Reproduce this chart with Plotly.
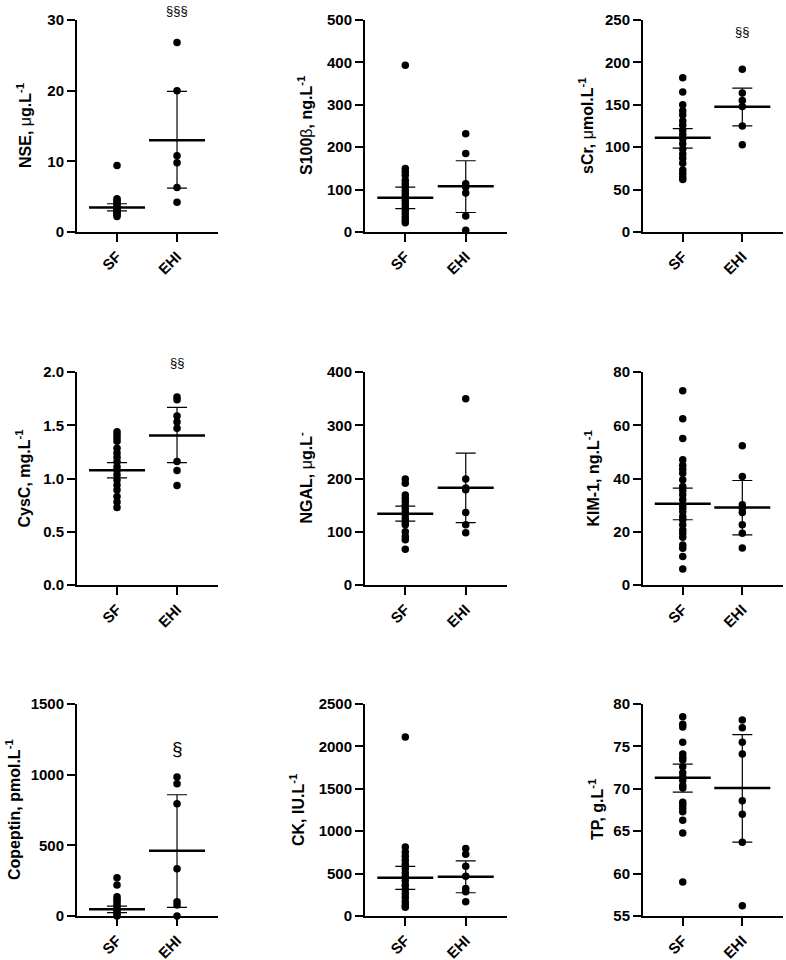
import plotly.graph_objects as go

GROUPS = ["SF", "EHI"]

# ---- data ----
NSE_SF = [9.4, 4.7, 4.5, 4.2, 3.9, 3.6, 3.4, 3.2, 3.0, 2.8, 2.6, 2.4, 2.2]
NSE_EHI = [26.8, 20.0, 10.8, 9.8, 6.3, 4.2]
NSE_MEAN = [3.45, 13.0]
NSE_LO = [3.0, 6.2]
NSE_HI = [4.0, 19.9]

S100_SF = [393, 150, 142, 134, 122, 114, 106, 98, 91, 83, 75, 67, 59, 51, 43, 35, 28, 22]
S100_EHI = [232, 185, 114, 106, 92, 38, 4]
S100_MEAN = [81, 108]
S100_LO = [55, 46]
S100_HI = [106, 168]

SCR_SF = [182, 165, 150, 143, 138, 131, 126, 120, 115, 110, 104, 98, 92, 87, 81, 73, 69, 65, 62]
SCR_EHI = [192, 164, 155, 148, 125, 103]
SCR_MEAN = [111, 147.6]
SCR_LO = [99, 125.2]
SCR_HI = [122, 169.7]

CYSC_SF = [1.44, 1.41, 1.38, 1.35, 1.285, 1.24, 1.20, 1.16, 1.11, 1.075, 1.034, 0.987, 0.94, 0.893, 0.83, 0.78, 0.727]
CYSC_EHI = [1.765, 1.74, 1.586, 1.53, 1.473, 1.16, 1.075, 0.934]
CYSC_MEAN = [1.078, 1.404]
CYSC_LO = [1.006, 1.15]
CYSC_HI = [1.15, 1.668]

NGAL_SF = [199, 191, 169, 163, 157, 150, 144, 138, 132, 125, 119, 113, 100, 91, 85, 67]
NGAL_EHI = [350, 199, 182, 179, 136, 113, 98]
NGAL_MEAN = [134, 182.4]
NGAL_LO = [120, 117.2]
NGAL_HI = [148, 247.6]

KIM_SF = [73, 62.4, 55, 47, 45, 43.5, 42, 39.5, 37, 35.5, 33.9, 32, 30, 28.8, 27.6, 25.7,
          24.5, 22.6, 20.7, 19.4, 17.9, 15, 13.8, 10.7, 6]
KIM_EHI = [52.3, 40.75, 30.1, 28.8, 27.2, 22.6, 19.4, 13.9]
KIM_MEAN = [30.5, 29.1]
KIM_LO = [24.5, 18.8]
KIM_HI = [36.4, 39.25]

COP_SF = [270, 219, 136, 118, 101, 82, 66, 47, 31, 14, 0]
COP_EHI = [983, 936, 795, 334, 101, 78, 0]
COP_MEAN = [47, 461]
COP_LO = [23.5, 61]
COP_HI = [70.5, 858]

CK_SF = [2112, 815, 756, 705, 658, 611, 560, 509, 462, 415, 364, 313, 266, 219, 168, 129, 102]
CK_EHI = [795, 729, 588, 470, 325, 286, 168]
CK_MEAN = [450, 462]
CK_LO = [313, 274]
CK_HI = [585, 650]

TP_SF = [78.5, 77.6, 77.3, 75.5, 74.1, 73.7, 73.4, 72.6, 71.9, 71.4, 71.0, 70.4, 70.1,
         68.4, 68.1, 67.7, 67.3, 66.3, 64.8, 59.0]
TP_EHI = [78.1, 77.2, 75.5, 74.1, 68.6, 67.0, 63.7, 56.2]
TP_MEAN = [71.3, 70.1]
TP_LO = [69.6, 63.7]
TP_HI = [72.9, 76.4]

NU = '<span style="font-weight:normal">μ</span>'
BETA = '<span style="font-weight:normal">β</span>'
TITLES = [
    f"NSE, {NU}g.L<sup>-1</sup>",
    f"S100{BETA}, ng.L<sup>-1</sup>",
    f"sCr, {NU}mol.L<sup>-1</sup>",
    "CysC, mg.L<sup>-1</sup>",
    f"NGAL, {NU}g.L<sup>-</sup>",
    "KIM-1, ng.L<sup>-1</sup>",
    "Copeptin, pmol.L<sup>-1</sup>",
    "CK, IU.L<sup>-1</sup>",
    "TP, g.L<sup>-1</sup>",
]
Y_RANGES = [[0, 30], [0, 500], [0, 250], [0, 2], [0, 400], [0, 80], [0, 1500], [0, 2500], [55, 80]]
Y_DTICKS = [10, 100, 50, 0.5, 100, 20, 500, 500, 5]
Y_FORMATS = ["", "", "", ".1f", "", "", "", "", ""]
SIG_TEXT = ["§§§", "", "§§", "§§", "", "", "§", "", ""]
SIG_Y = [31.4, None, 236, 2.085, None, None, 1183, None, None]
SIG_SIZE = [13, 13, 13, 13, 13, 13, 19, 13, 13]

SF_LISTS = [NSE_SF, S100_SF, SCR_SF, CYSC_SF, NGAL_SF, KIM_SF, COP_SF, CK_SF, TP_SF]
EHI_LISTS = [NSE_EHI, S100_EHI, SCR_EHI, CYSC_EHI, NGAL_EHI, KIM_EHI, COP_EHI, CK_EHI, TP_EHI]
MEANS = [NSE_MEAN, S100_MEAN, SCR_MEAN, CYSC_MEAN, NGAL_MEAN, KIM_MEAN, COP_MEAN, CK_MEAN, TP_MEAN]
LOS = [NSE_LO, S100_LO, SCR_LO, CYSC_LO, NGAL_LO, KIM_LO, COP_LO, CK_LO, TP_LO]
HIS = [NSE_HI, S100_HI, SCR_HI, CYSC_HI, NGAL_HI, KIM_HI, COP_HI, CK_HI, TP_HI]

# ---- layout geometry (screen pixels of the 786x960 window) ----
W, H = 786, 960
COL_X = [(77, 218), (365, 507), (643, 783)]
ROW_Y = [(20, 232), (372, 585), (704, 916)]
TITLE_X = [24, 305, 586, 23, 305, 592, 13, 297, 596]


def px_x(p):
    return min(1.0, max(0.0, p / W))


def px_y(p):
    return min(1.0, max(0.0, 1 - p / H))


FONT = "Liberation Sans, Arial, sans-serif"

fig = go.Figure()
layout = dict(
    width=W, height=H, margin=dict(l=0, r=0, t=0, b=0, autoexpand=False),
    paper_bgcolor="white", plot_bgcolor="white", showlegend=False,
    annotations=[],
)

for i in range(9):
    r, c = divmod(i, 3)
    n = "" if i == 0 else str(i + 1)
    xa, ya = "x" + n, "y" + n
    x0, x1 = COL_X[c]
    t, b = ROW_Y[r]

    # individual points
    for g, vals in enumerate([SF_LISTS[i], EHI_LISTS[i]]):
        fig.add_trace(go.Scatter(
            x=[g] * len(vals), y=vals, mode="markers", xaxis=xa, yaxis=ya,
            marker=dict(color="black", size=7.5, line=dict(width=0)),
            cliponaxis=False, hoverinfo="y",
        ))
    # mean with error bars
    means, lo, hi = MEANS[i], LOS[i], HIS[i]
    fig.add_trace(go.Scatter(
        x=[0, 1], y=means, mode="markers", xaxis=xa, yaxis=ya,
        marker=dict(symbol="line-ew", size=40, color="black",
                    line=dict(width=2.5, color="black")),
        error_y=dict(type="data", symmetric=False,
                     array=[hi[k] - means[k] for k in range(2)],
                     arrayminus=[means[k] - lo[k] for k in range(2)],
                     color="black", thickness=1.2, width=10),
        cliponaxis=False, hoverinfo="y",
    ))

    axis_common = dict(
        showline=True, linecolor="black", linewidth=2,
        ticks="outside", ticklen=8, tickwidth=2, tickcolor="black",
        showgrid=False, zeroline=False,
        tickfont=dict(family=FONT, size=15, color="black", weight="bold"),
    )
    layout["xaxis" + n] = dict(
        axis_common, domain=[px_x(x0), px_x(x1)], anchor=ya,
        range=[-0.667, 1.683], tickvals=[0, 1], ticktext=GROUPS, tickangle=-45,
    )
    layout["yaxis" + n] = dict(
        axis_common, domain=[px_y(b), px_y(t)], anchor=xa,
        range=Y_RANGES[i], dtick=Y_DTICKS[i], tick0=Y_RANGES[i][0],
        tickformat=Y_FORMATS[i],
    )
    layout["annotations"].append(dict(
        text=f"<b>{TITLES[i]}</b>", xref="paper", yref="paper",
        x=px_x(TITLE_X[i]), y=px_y((t + b) / 2), textangle=-90,
        xanchor="center", yanchor="middle", showarrow=False,
        font=dict(family=FONT, size=16, color="black"),
    ))
    if SIG_TEXT[i]:
        lo_r, hi_r = Y_RANGES[i]
        layout["annotations"].append(dict(
            text=SIG_TEXT[i], xref=xa, yref=ya + " domain", x=1,
            y=(SIG_Y[i] - lo_r) / (hi_r - lo_r),
            showarrow=False, xanchor="center", yanchor="middle",
            font=dict(family=FONT, size=SIG_SIZE[i], color="black"),
        ))

fig.update_layout(**layout)
fig.write_html("out.html", config={"displayModeBar": False},
               post_script="document.body.style.margin='0';document.body.style.overflow='hidden';")
